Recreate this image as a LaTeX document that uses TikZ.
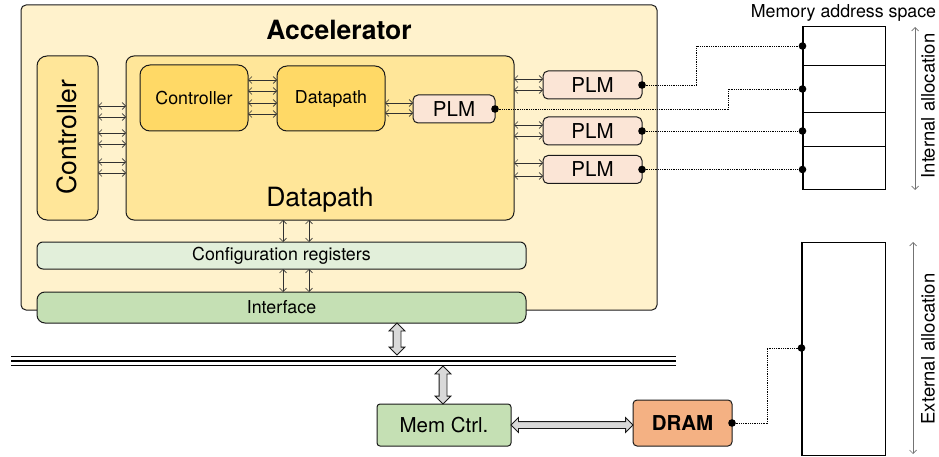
\documentclass[tikz,border=0pt]{standalone}
\usepackage{fontspec}
\setmainfont{TeX Gyre Heros}
\usetikzlibrary{arrows.meta,shapes.arrows,calc}

\definecolor{accfill}{HTML}{FFF2CC}
\definecolor{dpfill}{HTML}{FFE699}
\definecolor{innerfill}{HTML}{FFD966}
\definecolor{plmfill}{HTML}{FBE5D6}
\definecolor{cfgfill}{HTML}{E2EFDA}
\definecolor{ifacefill}{HTML}{C5E0B4}
\definecolor{dramfill}{HTML}{F4B183}
\definecolor{fatfill}{HTML}{D9D9D9}
\definecolor{edge}{HTML}{1A1A1A}

\begin{document}
\begin{tikzpicture}[x=1pt,y=-1pt,
  box/.style={draw=edge, line width=1pt, inner sep=0pt, outer sep=0pt},
  txt/.style={font=\fontsize{17.8}{20}\selectfont},
  txtl/.style={font=\fontsize{20.5}{24}\selectfont},
  txtbig/.style={font=\fontsize{26.5}{30}\selectfont},
  plmbox/.style={box, fill=plmfill, rounded corners=5pt, minimum width=99pt, minimum height=28pt, txtl},
  dbl/.style={draw=edge!90, line width=0.6pt, {Straight Barb[length=3.5pt,width=7pt]}-{Straight Barb[length=3.5pt,width=7pt]}},
  span/.style={draw=black!55, line width=0.7pt, {Straight Barb[length=3.5pt,width=7pt]}-{Straight Barb[length=3.5pt,width=7pt]}},
  dotline/.style={draw=black, line width=0.9pt, dash pattern=on 0.9pt off 0.9pt},
  fat/.style={double arrow, draw=edge, fill=fatfill, line width=0.8pt, inner xsep=0pt, inner ysep=3.5pt,
    double arrow head extend=4pt, double arrow tip angle=90, minimum width=0pt},
  memline/.style={draw=black, line width=1pt}
]
\useasboundingbox (0,0) rectangle (939,457);

% accelerator frame
\node[box, fill=accfill, rounded corners=5pt, minimum width=636pt, minimum height=305pt] (acc) at (339,157.5) {};
\node[font=\fontsize{26.5}{30}\selectfont\bfseries] (acctitle) at (339,30) {Accelerator};

% controller and datapath
\node[box, fill=dpfill, rounded corners=10pt, minimum width=61pt, minimum height=164pt] (ctrlL) at (67.5,138) {};
\node[txtbig, rotate=90] (ctrlLtxt) at (67,137) {Controller};
\node[box, fill=dpfill, rounded corners=8pt, minimum width=388pt, minimum height=164pt] (dp) at (320,138) {};
\node[txtbig, anchor=base] (dptxt) at (320,206) {Datapath};

\node[box, fill=innerfill, rounded corners=10pt, minimum width=108pt, minimum height=66pt, txt] (ictrl) at (194,98) {Controller};
\node[box, fill=innerfill, rounded corners=10pt, minimum width=108pt, minimum height=65pt, txt] (idp) at (331,98.5) {Datapath};
\node[box, fill=plmfill, rounded corners=5pt, minimum width=82pt, minimum height=28pt, txtl] (iplm) at (454,109) {PLM};

% private local memories
\node[plmbox] (plm1) at (592.5,85) {PLM};
\node[plmbox] (plm2) at (592.5,131) {PLM};
\node[plmbox] (plm3) at (592.5,169.5) {PLM};

% configuration registers and interface
\node[box, fill=cfgfill, rounded corners=6pt, minimum width=489pt, minimum height=27pt, txt] (cfg) at (281.5,255.5) {Configuration registers};
\node[box, fill=ifacefill, rounded corners=8pt, minimum width=489pt, minimum height=31pt, txt] (iface) at (281.5,307.5) {Interface};

% memory controller and DRAM
\node[box, fill=ifacefill, rounded corners=3pt, minimum width=134pt, minimum height=42pt, txtl] (memctl) at (444,425) {Mem Ctrl.};
\node[box, fill=dramfill, rounded corners=4pt, minimum width=99pt, minimum height=46pt, font=\fontsize{20.5}{24}\selectfont\bfseries] (dram) at (682.5,423) {DRAM};

% signal arrows
\foreach \yy in {106,117,133,144,162,173}
  \draw[dbl] (ctrlL.east |- 0,\yy) -- (dp.west |- 0,\yy);
\foreach \yy in {80,91,103,114}
  \draw[dbl] (ictrl.east |- 0,\yy) -- (idp.west |- 0,\yy);
\foreach \yy in {103,113}
  \draw[dbl] (idp.east |- 0,\yy) -- (iplm.west |- 0,\yy);
\foreach \yy in {79,90}
  \draw[dbl] (dp.east |- 0,\yy) -- (plm1.west |- 0,\yy);
\foreach \yy in {125,136}
  \draw[dbl] (dp.east |- 0,\yy) -- (plm2.west |- 0,\yy);
\foreach \yy in {163,176}
  \draw[dbl] (dp.east |- 0,\yy) -- (plm3.west |- 0,\yy);
\foreach \xx in {283,309} {
  \draw[dbl] (dp.south -| \xx,0) -- (cfg.north -| \xx,0);
  \draw[dbl] (cfg.south -| \xx,0) -- (iface.north -| \xx,0);
}

% system bus
\coordinate (busL) at (11,361);
\coordinate (busR) at (676,361);
\draw[line width=0.8pt] ($(busL)+(0,-4.5)$) -- ($(busR)+(0,-4.5)$);
\draw[line width=2pt] (busL) -- (busR);
\draw[line width=1.3pt] ($(busL)+(0,4.5)$) -- ($(busR)+(0,4.5)$);

% bulk transfer arrows
\node[fat, minimum height=32pt, rotate=90] (fa1) at (397,339) {};
\node[fat, minimum height=38pt, rotate=90] (fa2) at (443,385) {};
\node[fat, minimum height=122pt, inner ysep=3pt] (fa3) at ($(memctl.east)!0.5!(dram.west |- memctl.east)$) {};

% memory address space
\node[txt, anchor=base] (memtitle) at (843.5,18) {Memory address space};
\node[draw=black, line width=1pt, minimum width=82pt, minimum height=163pt, inner sep=0pt] (memint) at (844,108.5) {};
\foreach \yy in {66,113,147}
  \draw[memline] (memint.west |- 0,\yy) -- (memint.east |- 0,\yy);
\draw[line width=1.8pt] (memint.north west) -- (memint.south west);
\node[draw=black, line width=1pt, minimum width=83pt, minimum height=213pt, inner sep=0pt] (memext) at (843.5,348.5) {};
\draw[line width=1.8pt] (memext.north west) -- (memext.south west);

\coordinate (m1) at (memint.west |- 0,46);
\coordinate (m2) at (memint.west |- 0,89);
\coordinate (m3) at (memint.west |- 0,131);
\coordinate (m4) at (memint.west |- 0,169.5);
\coordinate (m5) at (memext.west |- 0,348);

% allocation spans
\coordinate (ia1) at (915,27);
\coordinate (ia2) at (915,190);
\draw[span] (ia1) -- (ia2);
\node[font=\fontsize{18.5}{22}\selectfont, rotate=90] (iatxt) at (928,106) {Internal allocation};
\coordinate (ea1) at (913,242);
\coordinate (ea2) at (913,454);
\draw[span] (ea1) -- (ea2);
\node[font=\fontsize{18.5}{22}\selectfont, rotate=90] (eatxt) at (928,349) {External allocation};

% mapping of memories onto the address space
\coordinate (r1) at (696,46);
\coordinate (r2) at (728,89);
\coordinate (r5) at (767,348);
\draw[dotline] (plm1.east) -| (r1) -- (m1);
\draw[dotline] (iplm.east) -| (r2) -- (m2);
\draw[dotline] (plm2.east) -- (m3);
\draw[dotline] (plm3.east) -- (m4);
\draw[dotline] (dram.east) -| (r5) -- (m5);

\foreach \p in {plm1.east,plm2.east,plm3.east,iplm.east,dram.east,m1,m2,m3,m4,m5}
  \fill (\p) circle (3.8pt);
\end{tikzpicture}
\end{document}
